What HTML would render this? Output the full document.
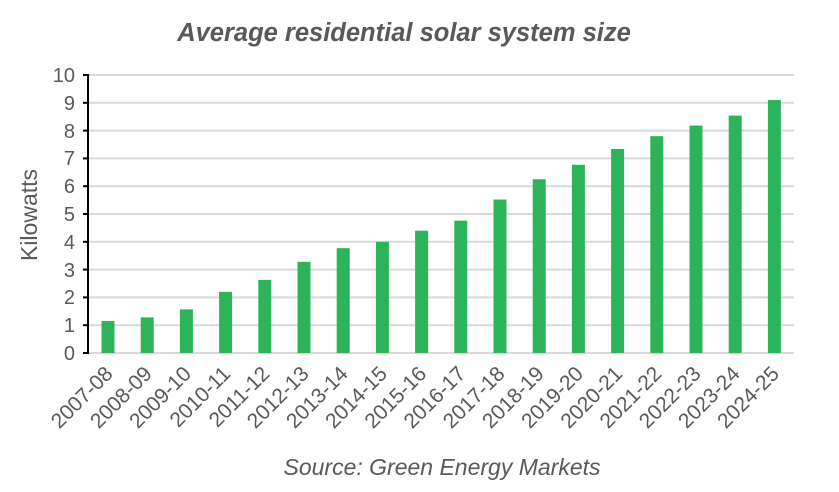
<!DOCTYPE html>
<html><head><style>body{margin:0;background:#fff}</style></head><body>
<svg width="839" height="487" xmlns="http://www.w3.org/2000/svg" font-family="Liberation Sans, Arial, sans-serif">
<rect width="839" height="487" fill="#fff"/>
<text x="404" y="41" text-anchor="middle" font-size="25.5" font-weight="bold" font-style="italic" fill="#595959">Average residential solar system size</text>
<g stroke="#d9d9d9" stroke-width="2">
<line x1="88" x2="794" y1="75" y2="75"/><line x1="88" x2="794" y1="102.8" y2="102.8"/>
<line x1="88" x2="794" y1="130.6" y2="130.6"/><line x1="88" x2="794" y1="158.4" y2="158.4"/>
<line x1="88" x2="794" y1="186.2" y2="186.2"/><line x1="88" x2="794" y1="214" y2="214"/>
<line x1="88" x2="794" y1="241.8" y2="241.8"/><line x1="88" x2="794" y1="269.6" y2="269.6"/>
<line x1="88" x2="794" y1="297.4" y2="297.4"/><line x1="88" x2="794" y1="325.2" y2="325.2"/>
<line x1="88" x2="794" y1="353" y2="353"/>
</g>
<line x1="88" x2="88" y1="74" y2="354" stroke="#000" stroke-width="2"/>
<g stroke="#000" stroke-width="2">
<line x1="83" x2="88" y1="75" y2="75"/><line x1="83" x2="88" y1="102.8" y2="102.8"/><line x1="83" x2="88" y1="130.6" y2="130.6"/><line x1="83" x2="88" y1="158.4" y2="158.4"/><line x1="83" x2="88" y1="186.2" y2="186.2"/><line x1="83" x2="88" y1="214" y2="214"/><line x1="83" x2="88" y1="241.8" y2="241.8"/><line x1="83" x2="88" y1="269.6" y2="269.6"/><line x1="83" x2="88" y1="297.4" y2="297.4"/><line x1="83" x2="88" y1="325.2" y2="325.2"/><line x1="83" x2="88" y1="353" y2="353"/>
</g>
<g font-size="20" fill="#595959" text-anchor="end">
<text x="75" y="82">10</text><text x="75" y="110">9</text><text x="75" y="138">8</text><text x="75" y="165">7</text><text x="75" y="193">6</text><text x="75" y="221">5</text><text x="75" y="249">4</text><text x="75" y="277">3</text><text x="75" y="304">2</text><text x="75" y="332">1</text><text x="75" y="360">0</text>
</g>
<text transform="translate(37,215) rotate(-90)" text-anchor="middle" font-size="23" fill="#595959">Kilowatts</text>
<g id="bars" fill="#2db45a"></g>
<g id="labels" font-size="21" fill="#595959"></g>
<text x="442" y="475" text-anchor="middle" font-size="23" font-style="italic" fill="#595959">Source: Green Energy Markets</text>
<script>
var v=[1.15,1.28,1.57,2.2,2.63,3.28,3.77,4.0,4.4,4.76,5.52,6.25,6.77,7.34,7.8,8.18,8.54,9.1];
var n=["2007-08","2008-09","2009-10","2010-11","2011-12","2012-13","2013-14","2014-15","2015-16","2016-17","2017-18","2018-19","2019-20","2020-21","2021-22","2022-23","2023-24","2024-25"];
var b=document.getElementById('bars'),l=document.getElementById('labels'),ns="http://www.w3.org/2000/svg";
for(var i=0;i<18;i++){var c=108+39.2*i;var h=v[i]*27.8;
var r=document.createElementNS(ns,'rect');r.setAttribute('x',c-6.5);r.setAttribute('y',353-h);r.setAttribute('width',13);r.setAttribute('height',h);b.appendChild(r);
var t=document.createElementNS(ns,'text');t.setAttribute('text-anchor','end');t.setAttribute('transform','translate('+(c+6)+',375) rotate(-45)');t.textContent=n[i];l.appendChild(t);}
</script>
</svg>
</body></html>
